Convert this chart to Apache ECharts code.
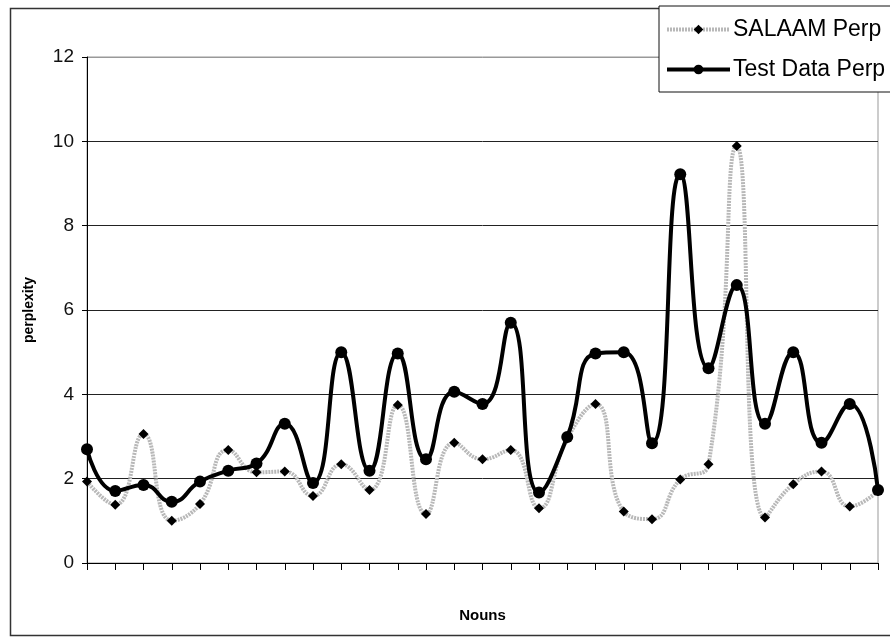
<!DOCTYPE html>
<html>
<head>
<meta charset="utf-8">
<script src="https://cdn.jsdelivr.net/npm/echarts@6/dist/echarts.min.js"></script>
<style>
  html, body { margin: 0; padding: 0; background: #fff; }
  #main { width: 890px; height: 639px; }
</style>
</head>
<body>
<div id="main"></div>
<script>
  // nouns 1..29 (no labels drawn on the axis)
  const nouns = ['1', '2', '3', '4', '5', '6', '7', '8', '9', '10', '11', '12', '13', '14', '15',
    '16', '17', '18', '19', '20', '21', '22', '23', '24', '25', '26', '27', '28', '29'];
  const salaamPerp = [1.93, 1.38, 3.06, 1.00, 1.40, 2.68, 2.15, 2.17, 1.59, 2.34, 1.73, 3.75, 1.16, 2.85, 2.46,
    2.68, 1.30, 2.95, 3.77, 1.22, 1.04, 1.98, 2.34, 9.89, 1.08, 1.87, 2.17, 1.34, 1.71];
  const testPerp = [2.70, 1.71, 1.85, 1.45, 1.93, 2.19, 2.36, 3.30, 1.90, 5.00, 2.19, 4.97, 2.46, 4.06, 3.77,
    5.70, 1.67, 2.99, 4.97, 5.00, 2.84, 9.22, 4.62, 6.59, 3.30, 5.00, 2.85, 3.77, 1.73];
  const seriesNames = ['SALAAM Perp', 'Test Data Perp'];

  const salaamLine = {color: '#b8b8b8', width: 4, type: [2, 1]};
  const testLine = {color: '#000', width: 4};

  const chart = echarts.init(document.getElementById('main'));
  chart.setOption({
    animation: false,
    backgroundColor: '#fff',
    textStyle: {fontFamily: 'Liberation Sans, Arial, sans-serif'},
    graphic: [{
      type: 'rect',
      left: 8, top: 6,
      shape: {width: 900, height: 627},
      style: {fill: 'none', stroke: '#333', lineWidth: 1.5},
      z: -1
    }],
    legend: {
      data: [
        {name: seriesNames[0], lineStyle: salaamLine},
        {name: seriesNames[1], lineStyle: testLine}
      ],
      orient: 'vertical',
      left: 659, top: 6,
      padding: [12, 40, 11, 6],
      itemWidth: 63,
      itemHeight: 12,
      itemGap: 17,
      backgroundColor: '#fff',
      borderColor: '#111',
      borderWidth: 1,
      textStyle: {fontSize: 23, color: '#000', padding: [0, 0, 0, -2]},
      z: 10
    },
    grid: {
      left: 87, right: 12, top: 57, bottom: 76,
      show: true, borderColor: '#999', borderWidth: 1
    },
    xAxis: {
      type: 'category',
      data: nouns,
      boundaryGap: false,
      name: 'Nouns',
      nameLocation: 'middle',
      nameGap: 45,
      nameTextStyle: {fontSize: 15, fontWeight: 'bold', color: '#000'},
      axisLine: {lineStyle: {color: '#000', width: 1}},
      axisTick: {show: true, length: 7, interval: 0, lineStyle: {color: '#000'}},
      axisLabel: {show: false},
      splitLine: {show: false}
    },
    yAxis: {
      type: 'value',
      min: 0, max: 12, interval: 2,
      name: 'perplexity',
      nameLocation: 'middle',
      nameGap: 51,
      nameTextStyle: {fontSize: 14, fontWeight: 'bold', color: '#000'},
      axisLine: {show: true, lineStyle: {color: '#000', width: 1}},
      axisTick: {show: true, length: 5, lineStyle: {color: '#000'}},
      axisLabel: {fontSize: 19, color: '#111', margin: 13},
      splitLine: {
        show: true,
        lineStyle: {color: ['#222', '#222', '#222', '#222', '#222', '#222', '#999'], width: 1}
      }
    },
    series: [{
      name: seriesNames[0],
      type: 'line',
      data: salaamPerp,
      smooth: 0.5,
      symbol: 'diamond',
      symbolSize: 10,
      itemStyle: {color: '#000'},
      lineStyle: salaamLine,
      z: 2
    }, {
      name: seriesNames[1],
      type: 'line',
      data: testPerp,
      smooth: 0.5,
      symbol: 'circle',
      symbolSize: 12,
      itemStyle: {color: '#000'},
      lineStyle: testLine,
      z: 3
    }]
  });
</script>
</body>
</html>
